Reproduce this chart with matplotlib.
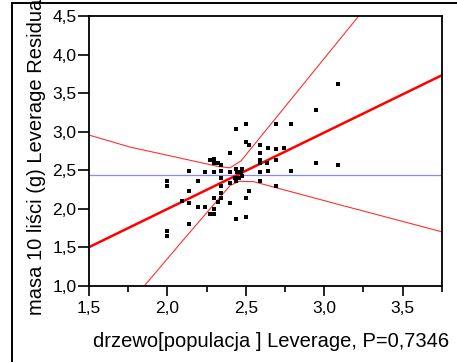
import matplotlib
matplotlib.use("Agg")
import matplotlib.pyplot as plt
from matplotlib.lines import Line2D
from matplotlib.ticker import FixedLocator

plt.rcParams['font.family'] = ['Liberation Sans', 'DejaVu Sans']

# leverage points
lev_x = [2.95, 3.09, 2.50, 2.69, 2.79, 2.44, 2.50, 2.52, 2.59, 2.645,
         2.745, 2.69, 2.40, 2.59, 2.275, 2.295, 2.295, 2.32, 2.345, 2.59,
         2.69, 2.59, 2.635, 2.95, 3.09, 2.14, 2.24, 2.295, 2.345, 2.40,
         2.44, 2.475, 2.445, 2.47, 2.59, 2.645, 2.79, 2.345, 2.43, 2.46,
         2.44, 2.475, 2.40, 1.995, 1.995, 2.195, 2.59, 2.69, 2.14, 2.345,
         2.345, 2.52, 2.095, 2.14, 2.295, 2.32, 2.345, 2.50, 2.40, 2.195,
         2.24, 2.295, 2.275, 2.295, 2.44, 2.50, 2.14, 1.995, 1.995]
lev_y = [3.28, 3.62, 3.10, 3.10, 3.10, 3.03, 2.86, 2.83, 2.83, 2.79,
         2.79, 2.77, 2.72, 2.72, 2.63, 2.65, 2.59, 2.59, 2.56, 2.63,
         2.63, 2.59, 2.59, 2.59, 2.56, 2.49, 2.47, 2.47, 2.49, 2.47,
         2.515, 2.515, 2.475, 2.475, 2.47, 2.49, 2.49, 2.40, 2.40, 2.40,
         2.36, 2.425, 2.335, 2.36, 2.29, 2.36, 2.36, 2.29, 2.23, 2.29,
         2.20, 2.23, 2.095, 2.07, 2.135, 2.09, 2.135, 2.135, 2.07, 2.02,
         2.02, 2.00, 1.935, 1.935, 1.865, 1.89, 1.80, 1.71, 1.64]

# fitted line and mean line
fit_x = [1.5, 3.75]
fit_y = [1.50, 3.73]
mean_y = 2.44

# confidence curves (vertices)
upper_x = [1.5, 1.76, 2.33, 2.40, 2.47, 3.5]
upper_y = [2.955, 2.80, 2.545, 2.53, 2.62, 5.2]
lower_x = [1.5, 2.10, 2.40, 2.46, 2.55, 3.10, 3.75]
lower_y = [0.15, 1.59, 2.30, 2.355, 2.35, 2.05, 1.70]

x_ticks = [1.5, 2.0, 2.5, 3.0, 3.5]
x_minor = [1.75, 2.25, 2.75, 3.25, 3.75]
y_ticks = [1.0, 1.5, 2.0, 2.5, 3.0, 3.5, 4.0, 4.5]


def comma(v):
    return "{:.1f}".format(v).replace(".", ",")


fig = plt.figure(figsize=(4.57, 3.62), dpi=100)
W, H = 457.0, 362.0
ax = fig.add_axes([89 / W, 1 - 285.7 / H, (441.7 - 89) / W, (285.7 - 16) / H])

ax.axhline(mean_y, color='#8888ff', lw=0.9)
ax.plot(upper_x, upper_y, color='#ff3030', lw=0.8)
ax.plot(lower_x, lower_y, color='#ff3030', lw=0.8)
ax.plot(fit_x, fit_y, color='#ff0000', lw=1.8)
ax.plot(lev_x, lev_y, 's', color='black', ms=2.3, mew=0)

ax.set_xlim(1.5, 3.75)
ax.set_ylim(1.0, 4.5)
ax.set_xticks(x_ticks)
ax.set_xticklabels([comma(v) for v in x_ticks])
ax.xaxis.set_minor_locator(FixedLocator(x_minor))
ax.set_yticks(y_ticks)
ax.set_yticklabels([comma(v) for v in y_ticks])

ax.tick_params(axis='x', which='major', length=7, width=1.2, pad=4, labelsize=12.5)
ax.tick_params(axis='x', which='minor', length=4, width=1.2)
ax.tick_params(axis='y', length=8, width=1.2, pad=1, labelsize=12.5)
for s in ax.spines.values():
    s.set_linewidth(1.3)

fig.text(93 / W, 1 - 347 / H, "drzewo[populacja ] Leverage, P=0,7346",
         fontsize=14.5, ha='left', va='baseline')
fig.text(42 / W, 1 - 315 / H, "masa 10 liści (g) Leverage Residuals",
         fontsize=14.5, rotation=90, rotation_mode='anchor',
         ha='left', va='baseline')

# outer frame of the report box
fig.add_artist(Line2D([12 / W, 12 / W], [0, 1 - 2.5 / H], transform=fig.transFigure,
                      color='black', lw=1.4))
fig.add_artist(Line2D([12 / W, 1], [1 - 2.5 / H, 1 - 2.5 / H], transform=fig.transFigure,
                      color='black', lw=1.4))

fig.savefig("out.png", dpi=100)
